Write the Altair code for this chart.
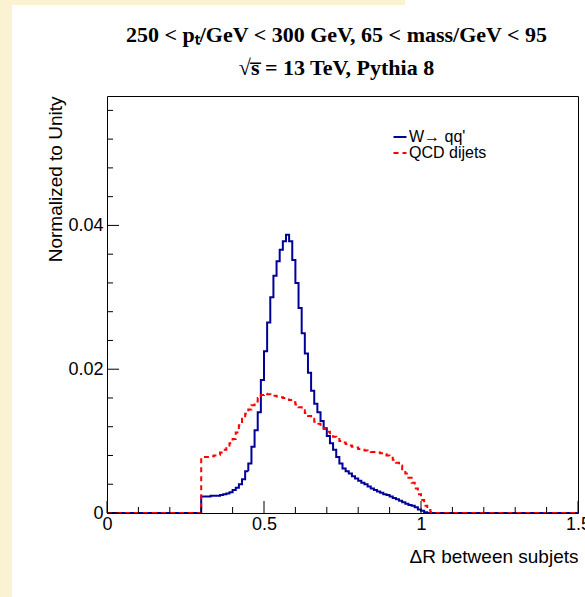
import altair as alt
import pandas as pd
import numpy as np

# ---------------- data ----------------
series_names = ["W\u2192 qq'", "QCD dijets"]
series_colors = ["#000099", "#ff0000"]

bin_width = 0.01
n_bins = 150

# W -> qq' : bins starting at DeltaR = 0.30 (all other bins empty)
w_first_bin = 30
w_values = [
    0.0023, 0.0023, 0.0023, 0.0024, 0.0024, 0.0024, 0.0025, 0.0026, 0.0027, 0.0029,  # 0.30-0.39
    0.0032, 0.0035, 0.0040, 0.0047, 0.0058, 0.0069, 0.0092, 0.0115, 0.0140, 0.0185,  # 0.40-0.49
    0.0225, 0.0265, 0.0300, 0.0330, 0.0350, 0.0366, 0.0378, 0.0387, 0.0378, 0.0352,  # 0.50-0.59
    0.0320, 0.0285, 0.0250, 0.0222, 0.0195, 0.0170, 0.0152, 0.0140, 0.0128, 0.0118,  # 0.60-0.69
    0.0107, 0.0097, 0.0088, 0.0078, 0.0069, 0.0062, 0.0058, 0.0055, 0.0051, 0.0048,  # 0.70-0.79
    0.0045, 0.0042, 0.0040, 0.0037, 0.0034, 0.0032, 0.0030, 0.0028, 0.0026, 0.0025,  # 0.80-0.89
    0.0023, 0.0021, 0.0019, 0.0017, 0.0015, 0.0013, 0.0011, 0.0010, 0.0008, 0.0005,  # 0.90-0.99
    0.0003, 0.0001,                                                                  # 1.00-1.01
]

# QCD dijets : bins starting at DeltaR = 0.30
qcd_first_bin = 30
qcd_values = [
    0.0078, 0.0078, 0.0078, 0.0079, 0.0080, 0.0081, 0.0084, 0.0088, 0.0092, 0.0097,  # 0.30-0.39
    0.0103, 0.0112, 0.0122, 0.0131, 0.0138, 0.0144, 0.0150, 0.0155, 0.0160, 0.0164,  # 0.40-0.49
    0.0166, 0.0165, 0.0164, 0.0163, 0.0162, 0.0161, 0.0160, 0.0158, 0.0157, 0.0154,  # 0.50-0.59
    0.0151, 0.0147, 0.0143, 0.0139, 0.0135, 0.0131, 0.0127, 0.0124, 0.0121, 0.0117,  # 0.60-0.69
    0.0113, 0.0109, 0.0106, 0.0103, 0.0100, 0.0098, 0.0096, 0.0094, 0.0092, 0.0091,  # 0.70-0.79
    0.0089, 0.0088, 0.0087, 0.0086, 0.0085, 0.0085, 0.0084, 0.0083, 0.0082, 0.0080,  # 0.80-0.89
    0.0077, 0.0074, 0.0070, 0.0066, 0.0061, 0.0055, 0.0049, 0.0042, 0.0034, 0.0026,  # 0.90-0.99
    0.0018, 0.0010, 0.0004, 0.0001,                                                  # 1.00-1.03
]

x_major = [0.0, 0.5, 1.0, 1.5]
x_minor = [0.1, 0.2, 0.3, 0.4, 0.6, 0.7, 0.8, 0.9, 1.1, 1.2, 1.3, 1.4]
y_major = [0.0, 0.02, 0.04]
y_minor = [0.004, 0.008, 0.012, 0.016, 0.024, 0.028, 0.032, 0.036,
           0.044, 0.048, 0.052, 0.056]

x_domain = [0.0, 1.5]
y_domain = [0.0, 0.058]

title_lines = ["250 < p\u209c/GeV < 300 GeV, 65 < mass/GeV < 95",
               "\u221as\u0305 = 13 TeV, Pythia 8"]

# ---------------- build histogram table ----------------
def full_hist(first, vals):
    h = [0.0] * n_bins
    h[first:first + len(vals)] = vals
    return h

rows = []
for name, first, vals in [(series_names[0], w_first_bin, w_values),
                          (series_names[1], qcd_first_bin, qcd_values)]:
    h = full_hist(first, vals)
    edges = np.round(np.arange(n_bins + 1) * bin_width, 4)
    for i, e in enumerate(edges):
        rows.append({"x": float(e), "y": h[i] if i < n_bins else 0.0, "series": name})
df = pd.DataFrame(rows)

W, H = 471, 417
FONT = "Liberation Sans"

xscale = alt.Scale(domain=x_domain, nice=False, zero=False)
yscale = alt.Scale(domain=y_domain, nice=False, zero=False)

legend_kw = dict(orient="none", legendX=285, legendY=33, title=None,
                 symbolType="stroke", symbolSize=169, symbolStrokeWidth=2,
                 labelFont=FONT, labelFontSize=16, labelColor="black",
                 labelOffset=1, rowPadding=-3, padding=0, labelLimit=0)

lines = alt.Chart(df).mark_line(interpolate="step-after", strokeWidth=2, clip=True).encode(
    x=alt.X("x:Q", scale=xscale, axis=alt.Axis(
        values=x_major,
        labelExpr="datum.value == 0 ? '0' : format(datum.value, '~g')",
        ticks=False, domain=False, grid=False, labelFlush=False,
        labelFont=FONT, labelFontSize=18, labelColor="black", labelPadding=2,
        title="\u0394R between subjets", titleFont=FONT, titleFontSize=19,
        titleFontWeight="normal", titleColor="black",
        titleX=W, titleY=43, titleAlign="right", titleBaseline="middle", titleAngle=0)),
    y=alt.Y("y:Q", scale=yscale, axis=alt.Axis(
        values=y_major,
        labelExpr="datum.value == 0 ? '0' : format(datum.value, '.2f')",
        ticks=False, domain=False, grid=False,
        labelFont=FONT, labelFontSize=18, labelColor="black", labelPadding=4,
        title="Normalized to Unity", titleFont=FONT, titleFontSize=19,
        titleFontWeight="normal", titleColor="black",
        titleX=-52, titleY=0, titleAngle=-90, titleAlign="right", titleBaseline="middle")),
    color=alt.Color("series:N", scale=alt.Scale(domain=series_names, range=series_colors),
                    legend=alt.Legend(**legend_kw)),
    strokeDash=alt.StrokeDash("series:N", scale=alt.Scale(domain=series_names, range=[[1, 0], [5, 4]]),
                              legend=alt.Legend(**legend_kw)),
)

def yticks(vals, length):
    return alt.Chart(pd.DataFrame({"y": vals})).mark_rule(color="black", strokeWidth=1).encode(
        y=alt.Y("y:Q", scale=yscale),
        x=alt.value(0), x2=alt.value(length))

def xticks(vals, length):
    return alt.Chart(pd.DataFrame({"x": vals})).mark_rule(color="black", strokeWidth=1).encode(
        x=alt.X("x:Q", scale=xscale),
        y=alt.value(H), y2=alt.value(H - length))

one = pd.DataFrame({"a": [0]})
beige = "#fbf2d2"
strip_left = alt.Chart(one).mark_rect(color=beige, clip=False).encode(
    x=alt.value(-107), x2=alt.value(-95), y=alt.value(-96), y2=alt.value(H + 84))
strip_top = alt.Chart(one).mark_rect(color=beige, clip=False).encode(
    x=alt.value(-107), x2=alt.value(298), y=alt.value(-96), y2=alt.value(-91))

chart = alt.layer(
    lines,
    yticks(y_major, 12), yticks(y_minor, 6),
    xticks(x_major, 12), xticks(x_minor, 6),
    strip_left, strip_top,
).properties(
    width=W, height=H,
    title=alt.TitleParams(text=title_lines, font="Liberation Serif", fontSize=22,
                          fontWeight="bold", lineHeight=33, anchor="middle", dx=-6,
                          offset=-80, color="black"),
    autosize=alt.AutoSizeParams(type="none"),
    padding={"left": 107, "top": 96, "right": 7, "bottom": 84},
    background="white",
).configure_view(stroke="black", strokeWidth=1)

chart.save("out.html", embed_options={"renderer": "svg", "actions": False})
